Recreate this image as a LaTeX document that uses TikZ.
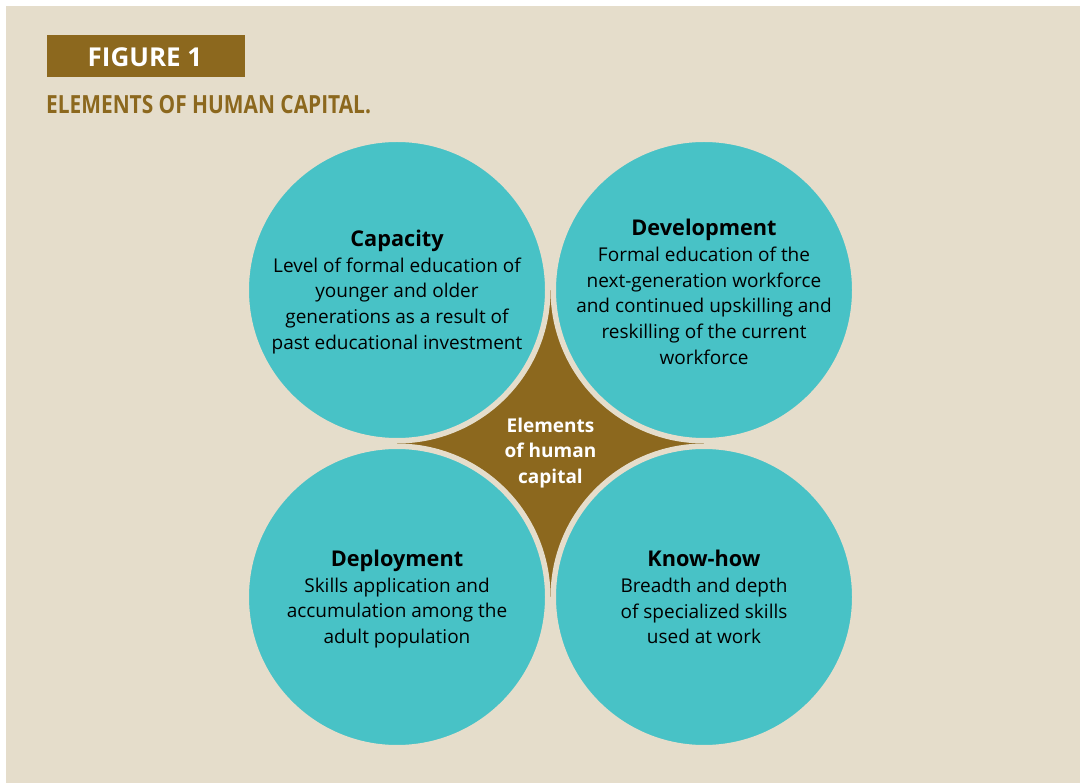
\documentclass[tikz,border=0pt]{standalone}
\usepackage{fontspec}
\setmainfont{Open Sans}
\newfontfamily\condfont[FakeStretch=0.835]{Open Sans}

\definecolor{beige}{HTML}{E5DDCB}
\definecolor{ochre}{HTML}{8C681E}
\definecolor{teal}{HTML}{48C2C6}

\tikzset{
  petal/.style={circle, fill=teal, draw=beige, line width=5.5pt, minimum size=301.5pt, inner sep=0pt},
  body/.style={align=center, font=\fontsize{19}{25.7}\selectfont, text=black, yshift=-2pt},
}
\newcommand{\petalhead}[1]{\textbf{\fontsize{21.7}{25.7}\selectfont #1}}

\begin{document}
\begin{tikzpicture}[x=1pt, y=-1pt]
\useasboundingbox (0,0) rectangle (1080,783);
\fill[white] (0,0) rectangle (1080,783);
\fill[beige] (6,6) rectangle (1080,783);

\fill[ochre] (47,35) rectangle (245,77);
\node[text=white, font=\bfseries\fontsize{26}{30}\selectfont] (fig) at (145,57) {FIGURE 1};
\node[anchor=west, inner sep=0pt, text=ochre, font=\condfont\bfseries\fontsize{25}{30}\selectfont] (title) at (46,105) {ELEMENTS OF HUMAN CAPITAL.};

\fill[ochre] (397,290) rectangle (704,597);

\node[petal] (capacity) at (397,290) {};
\node[petal] (development) at (704,290) {};
\node[petal] (deployment) at (397,597) {};
\node[petal] (knowhow) at (704,597) {};

\node[body] (capacity-text) at (capacity.center) {\petalhead{Capacity}\\Level of formal education of\\younger and older\\generations as a result of\\past educational investment};
\node[body] (development-text) at (development.center) {\petalhead{Development}\\Formal education of the\\next-generation workforce\\and continued upskilling and\\reskilling of the current\\workforce};
\node[body] (deployment-text) at (deployment.center) {\petalhead{Deployment}\\Skills application and\\accumulation among the\\adult population};
\node[body, yshift=2pt] (knowhow-text) at (knowhow.center) {\petalhead{Know-how}\\Breadth and depth\\of specialized skills\\used at work};

\node[align=center, text=white, font=\bfseries\fontsize{19}{25.5}\selectfont] (centre) at (550.5,453) {Elements\\of human\\capital};
\end{tikzpicture}
\end{document}
